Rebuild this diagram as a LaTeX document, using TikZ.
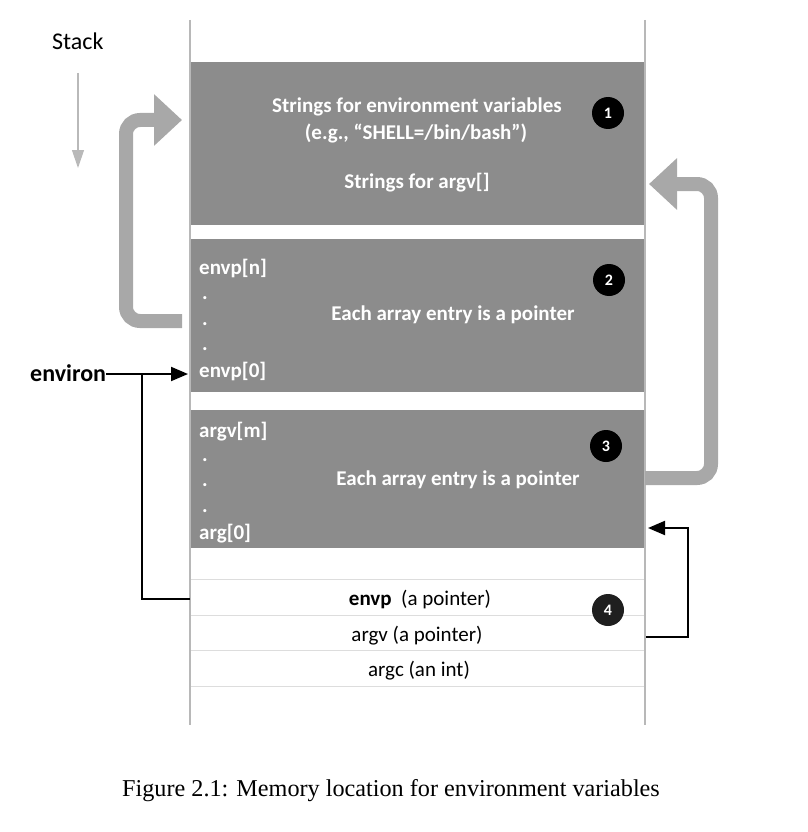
\documentclass[tikz,border=0pt]{standalone}
\usepackage{fontspec}
\setmainfont{Carlito}
\newfontfamily\capfont{Liberation Serif}
\usetikzlibrary{arrows.meta}
\definecolor{blockgray}{HTML}{8C8C8C}
\definecolor{arrowgray}{HTML}{A8A8A8}
\definecolor{wallgray}{HTML}{B8B8B8}
\definecolor{rowgray}{HTML}{DDDDDD}

\begin{document}
\begin{tikzpicture}
  [x=1pt,y=-1pt,
   block/.style={fill=blockgray,minimum width=455pt,inner sep=0pt},
   wt/.style={text=white,font=\fontsize{21}{24}\selectfont\bfseries,inner sep=0pt},
   bk/.style={font=\fontsize{21}{24}\selectfont,inner sep=0pt},
   badge/.style={circle,fill=black,text=white,minimum size=32pt,inner sep=0pt,font=\fontsize{16}{16}\selectfont\bfseries},
   wall/.style={wallgray,line width=2pt},
   row/.style={rowgray,line width=1pt},
   back/.style={arrowgray,line width=14pt,rounded corners=14pt,-{Triangle[length=28pt,width=50pt]}},
   ptr/.style={black,line width=2pt,-{Triangle[length=17pt,width=14pt]}},
   wire/.style={black,line width=2pt}]

  \useasboundingbox (0,0) rectangle (807,832);

  \node[block,minimum height=163pt] (b1) at (417.5,143.5) {};
  \node[block,minimum height=153pt] (b2) at (417.5,315.5) {};
  \node[block,minimum height=138pt] (b3) at (417.5,479) {};

  \draw[wall] (190,20) -- (190,725);
  \draw[wall] (645,20) -- (645,725);
  \foreach \y in {579,615,650,686}
    \draw[row] (191,\y) -- (644,\y);

  \node[font=\fontsize{24}{26}\selectfont,anchor=base west,inner sep=0pt] (stk) at (52,50) {Stack};
  \coordinate (s1) at (78,73);
  \coordinate (s2) at (78,168);
  \draw[arrowgray!80,line width=1.2pt,-{Triangle[length=18pt,width=12pt]}] (s1) -- (s2);

  \node[wt] (t1) at (417,107) {Strings for environment variables};
  \node[wt] (t2) at (416,133) {(e.g., “SHELL=/bin/bash”)};
  \node[wt] (t3) at (417,183) {Strings for argv[]};

  \node[wt,anchor=base west] (en) at (199,274) {envp[n]};
  \foreach \y [count=\i] in {299,325,350}
    \node[wt,anchor=base west] (dn\i) at (202,\y) {.};
  \node[wt,anchor=base west] (e0) at (199,377) {envp[0]};
  \node[wt] (p2) at (453,315) {Each array entry is a pointer};

  \node[wt,anchor=base west] (am) at (199,437) {argv[m]};
  \foreach \y [count=\i] in {461,486,512}
    \node[wt,anchor=base west] (dm\i) at (202,\y) {.};
  \node[wt,anchor=base west] (a0) at (199,539) {arg[0]};
  \node[wt] (p3) at (458,480) {Each array entry is a pointer};

  \node[bk,anchor=base] (r1) at (420,605) {\textbf{envp}~ (a pointer)};
  \node[bk,anchor=base] (r2) at (417,641) {argv (a pointer)};
  \node[bk,anchor=base] (r3) at (419,676) {argc (an int)};

  \node[badge] (c1) at (608,113) {1};
  \node[badge] (c2) at (609,280) {2};
  \node[badge] (c3) at (606,446) {3};
  \node[badge,fill=black!88] (c4) at (608,610) {4};

  \coordinate (l1) at (182,321);
  \coordinate (l2) at (182,120);
  \draw[back] (l1) -- (126,321) -- (126,120) -- (l2);
  \coordinate (r1a) at (645,478);
  \coordinate (r2a) at (649,184);
  \draw[back] (r1a) -- (711,478) -- (711,184) -- (r2a);

  \node[font=\fontsize{24}{26}\selectfont\bfseries,anchor=base west,inner sep=0pt] (env) at (30,381) {environ};
  \coordinate (k0) at (188,374);
  \draw[ptr] (env.east |- k0) -- (k0);
  \coordinate (k1) at (190,599);
  \draw[wire] (k1) -- (142,599) -- (142,374);

  \coordinate (m0) at (648,528);
  \coordinate (m1) at (646,637);
  \draw[ptr] (m1) -- (688,637) -- (688,528) -- (m0);

  \node[font=\capfont\fontsize{24.2}{27}\selectfont,anchor=base west,inner sep=0pt] (cap) at (122,796) {Figure 2.1: Memory location for environment variables};
\end{tikzpicture}
\end{document}
